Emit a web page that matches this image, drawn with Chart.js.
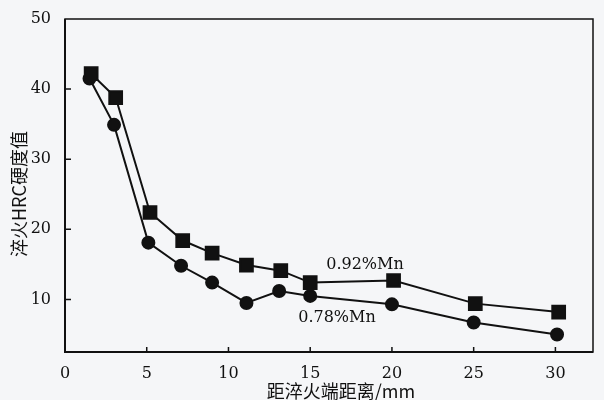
<!DOCTYPE html>
<html lang="zh">
  <head>
    <meta charset="UTF-8" />
    <title>淬火HRC硬度值</title>
    <script src="https://cdn.jsdelivr.net/npm/chart.js@4.4.1/dist/chart.umd.min.js"></script>
    <style>
      body {
        margin: 0;
        background: #f5f6f8;
      }
      .wrap {
        width: 604px;
        height: 400px;
        position: relative;
      }
    </style>
  </head>
  <body>
    <div class="wrap"><canvas id="hardness"></canvas></div>
    <script>
      // distance from quenched end (mm) and HRC values
      const distMn092 = [1.6, 3.1, 5.2, 7.2, 9, 11.1, 13.2, 15, 20.1, 25.1, 30.2];
      const hrcMn092 = [42.2, 38.8, 22.4, 18.4, 16.6, 14.9, 14.1, 12.4, 12.7, 9.4, 8.2];
      const distMn078 = [1.5, 3, 5.1, 7.1, 9, 11.1, 13.1, 15, 20, 25, 30.1];
      const hrcMn078 = [41.5, 34.9, 18.1, 14.8, 12.4, 9.5, 11.2, 10.5, 9.3, 6.7, 5.0];
      const xTicks = [0, 5, 10, 15, 20, 25, 30];
      const yTicks = [10, 20, 30, 40, 50];
      const seriesNames = ["0.92%Mn", "0.78%Mn"];

      const serif = "'DejaVu Serif', 'Liberation Serif', serif";
      const cjk = "'Noto Sans CJK SC', sans-serif";
      const ink = "#111";

      const toPoints = (xs, ys) => xs.map((x, i) => ({ x: x, y: ys[i] }));

      // frame, inward ticks, axis titles and series labels
      const decor = {
        id: "decor",
        afterDraw(chart) {
          const ctx = chart.ctx;
          const a = chart.chartArea;
          const xs = chart.scales.x;
          const ys = chart.scales.y;
          ctx.save();
          ctx.strokeStyle = ink;
          ctx.lineWidth = 1.5;
          ctx.strokeRect(a.left, a.top, a.right - a.left, a.bottom - a.top);
          ctx.lineWidth = 2;
          ctx.beginPath();
          ctx.moveTo(a.left, a.top);
          ctx.lineTo(a.left, a.bottom);
          ctx.lineTo(a.right, a.bottom);
          ctx.stroke();

          ctx.lineWidth = 1.5;
          ctx.beginPath();
          xTicks.slice(1).forEach((v) => {
            const px = xs.getPixelForValue(v);
            ctx.moveTo(px, a.bottom);
            ctx.lineTo(px, a.bottom - 5);
          });
          yTicks.slice(0, -1).forEach((v) => {
            const py = ys.getPixelForValue(v);
            ctx.moveTo(a.left, py);
            ctx.lineTo(a.left + 6, py);
          });
          ctx.stroke();

          ctx.fillStyle = ink;
          ctx.textAlign = "center";
          ctx.textBaseline = "middle";
          ctx.font = "16px " + serif;
          ctx.fillText(seriesNames[0], 365, 265);
          ctx.fillText(seriesNames[1], 337, 318);

          ctx.font = "18px " + cjk;
          ctx.fillText("距淬火端距离/mm", 341, 391);
          ctx.translate(19, 194);
          ctx.rotate(-Math.PI / 2);
          ctx.fillText("淬火HRC硬度值", 0, 0);
          ctx.restore();
        },
      };

      new Chart(document.getElementById("hardness"), {
        type: "scatter",
        data: {
          datasets: [
            {
              label: seriesNames[0],
              data: toPoints(distMn092, hrcMn092),
              showLine: true,
              borderColor: ink,
              backgroundColor: ink,
              borderWidth: 2,
              pointStyle: "rect",
              pointRadius: 9,
              pointHoverRadius: 9,
            },
            {
              label: seriesNames[1],
              data: toPoints(distMn078, hrcMn078),
              showLine: true,
              borderColor: ink,
              backgroundColor: ink,
              borderWidth: 2,
              pointStyle: "circle",
              pointRadius: 6,
              pointHoverRadius: 6,
            },
          ],
        },
        options: {
          responsive: true,
          maintainAspectRatio: false,
          animation: false,
          layout: { padding: { left: 0, right: 2, top: 19, bottom: 0 } },
          plugins: {
            legend: { display: false },
            tooltip: { enabled: false },
          },
          scales: {
            x: {
              type: "linear",
              min: 0,
              max: 32.3,
              grid: { display: false },
              border: { display: false },
              afterBuildTicks: (s) => {
                s.ticks = xTicks.map((v) => ({ value: v }));
              },
              afterFit: (s) => {
                s.height = 48;
              },
              ticks: {
                color: ink,
                padding: 4,
                maxRotation: 0,
                font: { family: serif, size: 16 },
              },
            },
            y: {
              min: 2.5,
              max: 50,
              grid: { display: false },
              border: { display: false },
              afterBuildTicks: (s) => {
                s.ticks = yTicks.map((v) => ({ value: v }));
              },
              afterFit: (s) => {
                s.width = 65;
              },
              ticks: {
                color: ink,
                padding: 6,
                font: { family: serif, size: 16 },
              },
            },
          },
        },
        plugins: [decor],
      });
    </script>
  </body>
</html>
